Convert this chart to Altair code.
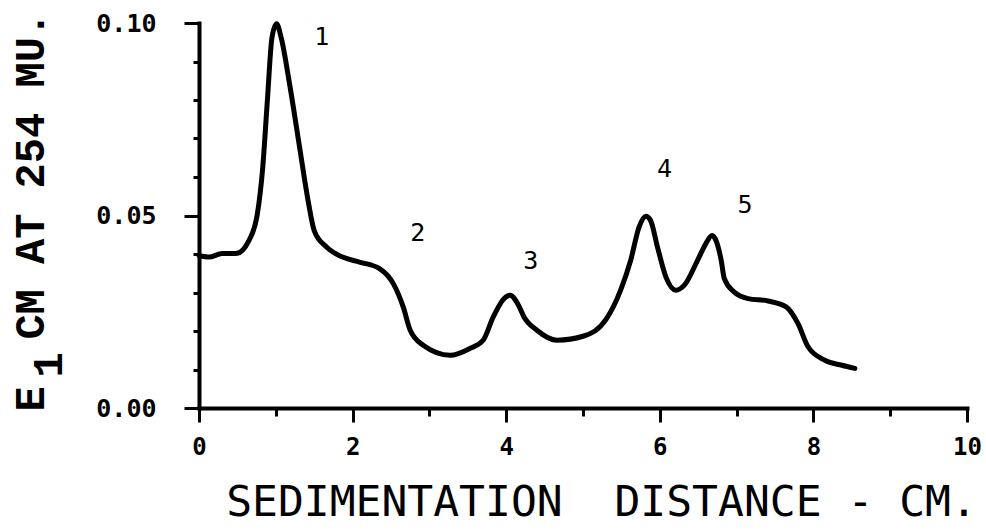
import altair as alt
import pandas as pd

# ---- data ----
distance = [0.0, 0.13, 0.30, 0.48, 0.65, 0.76, 0.83, 0.89, 0.95, 1.01, 1.07, 1.18, 1.31, 1.42,
            1.50, 1.66, 1.87, 2.09, 2.35, 2.53, 2.66, 2.75, 2.92, 3.27, 3.53, 3.70, 3.83, 3.97,
            4.05, 4.16, 4.23, 4.40, 4.66, 5.01, 5.30, 5.49, 5.62, 5.73, 5.82, 5.88, 5.97, 6.08,
            6.21, 6.32, 6.49, 6.60, 6.68, 6.74, 6.80, 6.84, 6.97, 7.15, 7.41, 7.65, 7.80, 7.93,
            8.15, 8.37, 8.54]
absorbance = [0.0396, 0.0392, 0.0401, 0.0401, 0.0435, 0.0504, 0.0625, 0.0798, 0.0962, 0.0998,
              0.0962, 0.0841, 0.0677, 0.0539, 0.0461, 0.0418, 0.0392, 0.0379, 0.0362, 0.0323,
              0.0262, 0.0202, 0.0163, 0.0137, 0.0155, 0.0176, 0.0236, 0.0284, 0.0293, 0.0267,
              0.0237, 0.0202, 0.0176, 0.0187, 0.0230, 0.0306, 0.0383, 0.0470, 0.0498, 0.0487,
              0.0418, 0.0340, 0.0306, 0.0319, 0.0383, 0.0427, 0.0448, 0.0431, 0.0383, 0.0336,
              0.0301, 0.0284, 0.0278, 0.0262, 0.0219, 0.0159, 0.0124, 0.0111, 0.0103]

peak_names = ["1", "2", "3", "4", "5"]
peak_x = [1.60, 2.85, 4.32, 6.06, 7.11]
peak_y = [0.0964, 0.0455, 0.0382, 0.0621, 0.0527]

x_ticks = [0, 1, 2, 3, 4, 5, 6, 7, 8, 9, 10]
y_ticks = [0.0, 0.01, 0.02, 0.03, 0.04, 0.05, 0.06, 0.07, 0.08, 0.09, 0.10]

x_title = "SEDIMENTATION \u00a0DISTANCE - CM."
y_title_parts = ["E", "1", "CM AT 254 MU."]

curve = pd.DataFrame({"distance": distance, "absorbance": absorbance})
peaks = pd.DataFrame({"name": peak_names, "px": peak_x, "py": peak_y})

x_scale = alt.Scale(domain=[0, 10], nice=False, zero=False)
y_scale = alt.Scale(domain=[0, 0.1], nice=False, zero=False)

x_major = "datum.value % 2 === 0"
y_major = "abs(datum.value * 20 - round(datum.value * 20)) < 0.001"

x_axis = alt.Axis(
    values=x_ticks,
    title=x_title,
    grid=False,
    tickSize={"condition": {"test": x_major, "value": 14}, "value": 8},
    labelExpr=f"({x_major}) ? datum.label : ''",
    labelFont="DejaVu Sans Mono",
    labelFontWeight="bold",
    labelFontSize=24,
    labelPadding=13,
    labelColor="black",
    labelFlush=False,
    titleFont="DejaVu Sans Mono",
    titleFontSize=43,
    titleFontWeight="normal",
    titleColor="black",
    titleX=402,
    titleY=107,
    titleAlign="center",
    titleBaseline="alphabetic",
)
y_axis = alt.Axis(
    values=y_ticks,
    title=None,
    grid=False,
    format=".2f",
    tickSize={"condition": {"test": y_major, "value": 15}, "value": 6},
    labelExpr=f"({y_major}) ? datum.label : ''",
    labelFont="DejaVu Sans Mono",
    labelFontWeight="bold",
    labelFontSize=25,
    labelPadding=28,
    labelColor="black",
    labelFlush=False,
)

line = alt.Chart(curve).mark_line(
    color="black", strokeWidth=5, interpolate="monotone",
    strokeCap="round", strokeJoin="round"
).encode(
    x=alt.X("distance:Q", scale=x_scale, axis=x_axis),
    y=alt.Y("absorbance:Q", scale=y_scale, axis=y_axis),
)

peak_text = alt.Chart(peaks).mark_text(
    font="DejaVu Sans Mono", fontSize=25, color="black", baseline="middle", align="center"
).encode(
    x=alt.X("px:Q", scale=x_scale, axis=x_axis),
    y=alt.Y("py:Q", scale=y_scale, axis=y_axis),
    text="name:N",
)

def title_part(part, xpx, ypx, align):
    return alt.Chart(pd.DataFrame({"t": [part]})).mark_text(
        font="Liberation Mono", fontSize=42, fontWeight="bold", color="black",
        angle=270, align=align, baseline="alphabetic"
    ).encode(text="t:N", x=alt.value(xpx), y=alt.value(ypx))

t_e = title_part(y_title_parts[0], -155, 376, "center")
t_1 = title_part(y_title_parts[1], -137, 342, "center")
t_rest = title_part(y_title_parts[2], -155, 316.6, "left")

chart = alt.layer(line, peak_text, t_e, t_1, t_rest).properties(
    width=768,
    height=385,
    padding={"left": 199, "top": 23, "right": 19, "bottom": 124},
    autosize=alt.AutoSizeParams(type="none"),
    background="white",
).configure_view(stroke=None).configure_axis(
    domainColor="black", domainWidth=4, tickColor="black", tickWidth=3,
    domainCap="square",
)

chart.save("out.html", embed_options={"renderer": "svg", "actions": False})
